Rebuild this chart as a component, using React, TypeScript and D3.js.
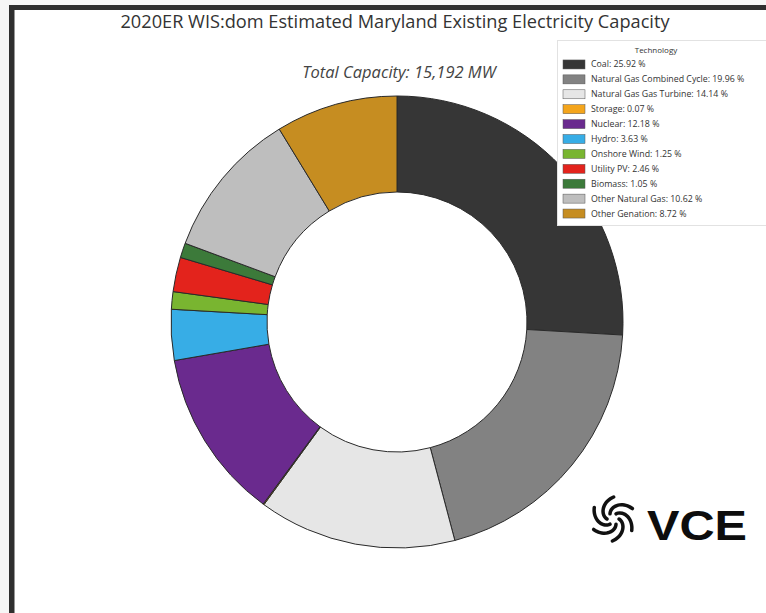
import React from "react";
import * as d3 from "d3";

const techNames = [
  "Coal",
  "Natural Gas Combined Cycle",
  "Natural Gas Gas Turbine",
  "Storage",
  "Nuclear",
  "Hydro",
  "Onshore Wind",
  "Utility PV",
  "Biomass",
  "Other Natural Gas",
  "Other Genation",
];
const techShares = [25.92, 19.96, 14.14, 0.07, 12.18, 3.63, 1.25, 2.46, 1.05, 10.62, 8.72];
const techColors = [
  "#363636",
  "#828282",
  "#e6e6e6",
  "#f4a51c",
  "#6a2a8e",
  "#37ade6",
  "#79b530",
  "#e3231c",
  "#3c7a3a",
  "#bebebe",
  "#c68d21",
];
const chartTitle = "2020ER WIS:dom Estimated Maryland Existing Electricity Capacity";
const subtitle = "Total Capacity: 15,192 MW";
const legendTitle = "Technology";

const W = 766;
const H = 613;
const cx = 397;
const cy = 322;
const outerR = 226;
const innerR = 130;

export default function App() {
  const data = techNames.map((name, i) => ({ name, value: techShares[i], color: techColors[i] }));
  const pie = d3
    .pie<{ name: string; value: number; color: string }>()
    .value((d) => d.value)
    .sort(null)
    .startAngle(0)
    .endAngle(2 * Math.PI);
  const arcs = pie(data);
  const arcGen = d3
    .arc<d3.PieArcDatum<{ name: string; value: number; color: string }>>()
    .innerRadius(innerR)
    .outerRadius(outerR);

  const legendY = d3.scaleBand<number>().domain(d3.range(data.length)).range([57, 221]);

  // swirl logo blades
  const logoCx = 613;
  const logoCy = 519;
  const blades = d3.range(6).map((i) => {
    const a = (i * Math.PI) / 3;
    const pts: [number, number][] = d3.range(0, 1.01, 0.1).map((t) => {
      const r = 6 + t * 16;
      const ang = a + t * 1.6;
      return [logoCx + r * Math.cos(ang), logoCy + r * Math.sin(ang)];
    });
    return d3.line().curve(d3.curveCatmullRom)(pts) as string;
  });

  const font = "'Open Sans', 'Noto Sans', sans-serif";

  return (
    <svg
      width={W}
      height={H}
      style={{ position: "absolute", left: 0, top: 0, display: "block" }}
      fontFamily={font}
    >
      <rect x={0} y={0} width={W} height={H} fill="#f6f6f6" />
      <rect x={9} y={5} width={W} height={H} fill="#2f2f2f" />
      <rect x={14.5} y={10} width={W} height={H} fill="#ffffff" />

      <text x={395} y={28} textAnchor="middle" fontSize={18.2} fill="#333">
        {chartTitle}
      </text>
      <text x={399} y={78} textAnchor="middle" fontSize={16.5} fontStyle="italic" fill="#444">
        {subtitle}
      </text>

      <g transform={`translate(${cx},${cy})`}>
        {arcs.map((a, i) => (
          <path key={i} d={arcGen(a) as string} fill={a.data.color} stroke="#2a2a2a" strokeWidth={1} />
        ))}
      </g>

      <g>
        <rect x={557.5} y={40.5} width={210} height={185} fill="#fff" stroke="#e2e2e2" />
        <text x={656} y={53} textAnchor="middle" fontSize={8} fill="#333">
          {legendTitle}
        </text>
        {data.map((d, i) => {
          const y = (legendY(i) as number) + legendY.bandwidth() / 2;
          return (
            <g key={i}>
              <rect x={563} y={y - 4.5} width={22} height={9} fill={d.color} stroke="#555" strokeWidth={0.5} />
              <text x={591} y={y + 3} fontSize={8.8} fill="#333">
                {`${d.name}: ${d.value.toFixed(2)} %`}
              </text>
            </g>
          );
        })}
      </g>

      <g>
        {blades.map((p, i) => (
          <path key={i} d={p} fill="none" stroke="#111" strokeWidth={3.5} strokeLinecap="round" />
        ))}
        <text
          x={647}
          y={540}
          fontSize={42}
          fontWeight="bold"
          fontFamily="'Liberation Sans', Arial, sans-serif"
          fill="#0d0d0d"
          textLength={100}
          lengthAdjust="spacingAndGlyphs"
        >
          VCE
        </text>
      </g>
    </svg>
  );
}
